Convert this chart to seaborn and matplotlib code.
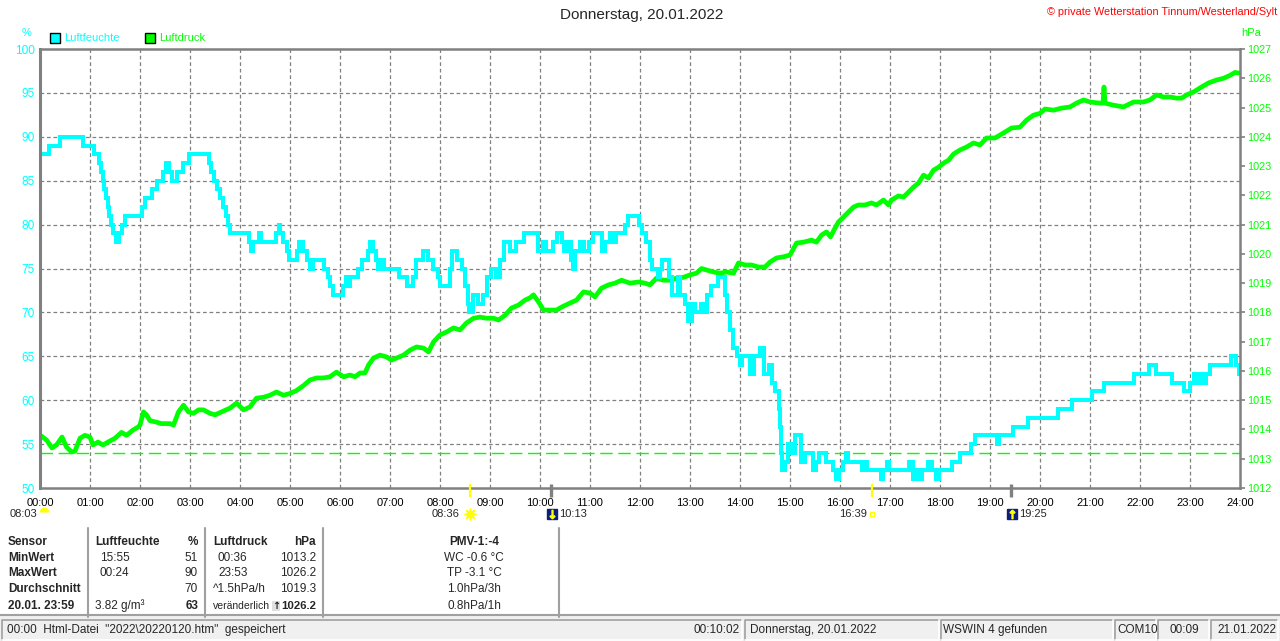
"""Tagesgrafik Luftfeuchte / Luftdruck, WSWIN-Stil."""
import matplotlib
matplotlib.use("Agg")
import matplotlib.lines as mlines
import matplotlib.patches as mpatches
import matplotlib.pyplot as plt
import matplotlib.transforms as mtransforms
import seaborn as sns

W, H = 1280, 641

# Luftfeuchte: Zeitpunkt (h) eines Wechsels und neuer Wert (%), gilt bis zum naechsten
hum_hours = [
    0.00, 0.17, 0.40, 0.85, 1.07, 1.17, 1.22, 1.25, 1.28, 1.31, 1.35, 1.38, 1.42,
    1.46, 1.52, 1.58, 1.63, 1.70, 2.03, 2.10, 2.23, 2.33, 2.45, 2.52, 2.58, 2.63,
    2.73, 2.85, 2.97, 3.37, 3.42, 3.47, 3.53, 3.60, 3.66, 3.72, 3.76, 3.80, 4.17,
    4.22, 4.27, 4.37, 4.42, 4.72, 4.77, 4.80, 4.86, 4.93, 4.98, 5.13, 5.18, 5.26,
    5.33, 5.40, 5.45, 5.68, 5.75, 5.80, 5.85, 6.05, 6.12, 6.15, 6.20, 6.35, 6.43,
    6.55, 6.60, 6.66, 6.72, 6.76, 6.82, 6.88, 7.18, 7.33, 7.45, 7.52, 7.66, 7.75,
    7.85, 7.95, 8.00, 8.20, 8.23, 8.33, 8.43, 8.50, 8.55, 8.58, 8.65, 8.75, 8.85,
    8.93, 9.02, 9.12, 9.20, 9.28, 9.40, 9.52, 9.68, 9.96, 10.05, 10.12, 10.25,
    10.33, 10.44, 10.48, 10.53, 10.62, 10.66, 10.70, 10.80, 10.88, 10.98, 11.06,
    11.24, 11.30, 11.40, 11.48, 11.52, 11.70, 11.76, 11.97, 12.04, 12.12, 12.20,
    12.24, 12.36, 12.40, 12.44, 12.58, 12.64, 12.76, 12.80, 12.90, 12.96, 13.04,
    13.10, 13.22, 13.30, 13.34, 13.42, 13.55, 13.70, 13.74, 13.80, 13.86, 13.94,
    14.00, 14.04, 14.20, 14.28, 14.40, 14.48, 14.57, 14.63, 14.70, 14.78, 14.80,
    14.82, 14.84, 14.90, 14.95, 15.02, 15.10, 15.22, 15.30, 15.46, 15.52, 15.58,
    15.72, 15.86, 15.92, 15.98, 16.06, 16.12, 16.16, 16.44, 16.48, 16.54, 16.82,
    16.86, 16.93, 16.98, 17.38, 17.45, 17.52, 17.60, 17.64, 17.76, 17.84, 17.92,
    17.98, 18.24, 18.40, 18.62, 18.70, 19.14, 19.18, 19.45, 19.76, 20.36, 20.64,
    21.04, 21.28, 21.88, 22.18, 22.32, 22.64, 22.88, 23.00, 23.08, 23.14, 23.22,
    23.26, 23.32, 23.40, 23.82, 23.92, 23.97, 24.00,
]
hum_values = [
    88, 89, 90, 89, 88, 87, 86, 85, 84, 83, 82, 81, 80,
    79, 78, 79, 80, 81, 82, 83, 84, 85, 86, 87, 86, 85,
    86, 87, 88, 87, 86, 85, 84, 83, 82, 81, 80, 79, 78,
    77, 78, 79, 78, 79, 80, 79, 78, 77, 76, 77, 78, 77,
    76, 75, 76, 75, 74, 73, 72, 73, 74, 73, 74, 75, 76,
    77, 78, 77, 76, 75, 76, 75, 74, 73, 74, 76, 77, 76,
    75, 74, 73, 75, 77, 76, 75, 73, 71, 70, 72, 71, 72,
    74, 75, 74, 76, 78, 77, 78, 79, 77, 78, 77, 78,
    79, 78, 77, 78, 76, 75, 77, 78, 77, 78, 79,
    77, 78, 79, 78, 79, 80, 81, 80, 79, 78, 76,
    75, 74, 75, 76, 74, 72, 74, 72, 71, 69, 71,
    70, 71, 70, 72, 73, 74, 72, 70, 68, 66, 65,
    64, 65, 63, 65, 66, 63, 64, 62, 61, 59, 57,
    54, 52, 53, 55, 54, 56, 53, 54, 52, 53, 54,
    53, 52, 51, 52, 53, 54, 53, 52, 53, 52, 51,
    52, 53, 52, 53, 51, 52, 51, 52, 53, 52, 51,
    52, 53, 54, 55, 56, 55, 56, 57, 58, 59, 60,
    61, 62, 63, 64, 63, 62, 61, 62, 63, 62, 63,
    62, 63, 64, 65, 64, 63, 63,
]

# Luftdruck (hPa)
press_hours = [
    0.00, 0.13, 0.24, 0.33, 0.44, 0.53, 0.63, 0.70, 0.80, 0.90, 1.00, 1.06, 1.16,
    1.26, 1.36, 1.50, 1.63, 1.73, 1.86, 1.96, 2.00, 2.07, 2.13, 2.20, 2.33, 2.43,
    2.60, 2.67, 2.77, 2.87, 2.97, 3.07, 3.17, 3.27, 3.40, 3.50, 3.63, 3.80, 3.93,
    4.07, 4.20, 4.33, 4.47, 4.60, 4.73, 4.87, 5.00, 5.13, 5.27, 5.40, 5.53, 5.67,
    5.80, 5.93, 6.07, 6.20, 6.30, 6.40, 6.50, 6.57, 6.67, 6.80, 6.93, 7.03, 7.13,
    7.27, 7.40, 7.53, 7.67, 7.77, 7.87, 8.00, 8.13, 8.27, 8.40, 8.53, 8.67, 8.80,
    8.93, 9.07, 9.17, 9.30, 9.43, 9.57, 9.70, 9.80, 9.87, 9.97, 10.07, 10.20,
    10.33, 10.43, 10.60, 10.73, 10.87, 11.00, 11.10, 11.23, 11.37, 11.50, 11.63,
    11.80, 11.97, 12.10, 12.20, 12.33, 12.47, 12.60, 12.73, 12.87, 13.00, 13.13,
    13.23, 13.33, 13.47, 13.60, 13.73, 13.87, 13.97, 14.10, 14.23, 14.37, 14.50,
    14.60, 14.73, 14.87, 15.00, 15.13, 15.27, 15.43, 15.53, 15.63, 15.73, 15.81,
    15.90, 15.97, 16.07, 16.17, 16.27, 16.37, 16.50, 16.63, 16.73, 16.87, 16.97,
    17.03, 17.17, 17.27, 17.37, 17.47, 17.57, 17.67, 17.77, 17.87, 17.97, 18.07,
    18.17, 18.27, 18.40, 18.53, 18.67, 18.80, 18.93, 19.10, 19.27, 19.43, 19.60,
    19.73, 19.87, 20.00, 20.10, 20.27, 20.43, 20.60, 20.73, 20.87, 21.00, 21.20,
    21.26, 21.28, 21.30, 21.47, 21.67, 21.87, 22.07, 22.20, 22.33, 22.47, 22.60,
    22.73, 22.83, 22.93, 23.07, 23.20, 23.37, 23.53, 23.67, 23.80, 23.90, 23.97,
]
press_values = [
    1013.81, 1013.64, 1013.37, 1013.47, 1013.74, 1013.40, 1013.23, 1013.26, 1013.70,
    1013.80, 1013.74, 1013.47, 1013.57, 1013.47, 1013.57, 1013.70, 1013.90, 1013.80,
    1013.98, 1014.08, 1014.15, 1014.60, 1014.50, 1014.30, 1014.25, 1014.20, 1014.20,
    1014.15, 1014.60, 1014.83, 1014.60, 1014.55, 1014.67, 1014.67, 1014.55, 1014.50,
    1014.60, 1014.73, 1014.90, 1014.67, 1014.77, 1015.07, 1015.10, 1015.17, 1015.28,
    1015.17, 1015.23, 1015.33, 1015.50, 1015.69, 1015.76, 1015.76, 1015.80, 1015.96,
    1015.80, 1015.86, 1015.80, 1015.93, 1015.93, 1016.20, 1016.44, 1016.54, 1016.48,
    1016.37, 1016.44, 1016.54, 1016.71, 1016.82, 1016.78, 1016.65, 1016.99, 1017.23,
    1017.33, 1017.47, 1017.40, 1017.64, 1017.80, 1017.84, 1017.80, 1017.80, 1017.74,
    1017.90, 1018.15, 1018.25, 1018.42, 1018.50, 1018.60, 1018.36, 1018.08, 1018.08,
    1018.08, 1018.18, 1018.32, 1018.42, 1018.70, 1018.66, 1018.53, 1018.83, 1018.94,
    1019.00, 1019.10, 1019.00, 1019.04, 1019.00, 1018.94, 1019.17, 1019.10, 1019.10,
    1019.17, 1019.20, 1019.28, 1019.34, 1019.50, 1019.45, 1019.38, 1019.34, 1019.38,
    1019.34, 1019.69, 1019.62, 1019.62, 1019.55, 1019.55, 1019.72, 1019.86, 1019.90,
    1019.96, 1020.37, 1020.40, 1020.47, 1020.40, 1020.64, 1020.75, 1020.58, 1020.88,
    1021.09, 1021.26, 1021.43, 1021.60, 1021.67, 1021.67, 1021.74, 1021.67, 1021.84,
    1021.67, 1021.84, 1021.98, 1021.94, 1022.11, 1022.28, 1022.42, 1022.69, 1022.59,
    1022.86, 1022.96, 1023.10, 1023.20, 1023.41, 1023.55, 1023.65, 1023.79, 1023.72,
    1023.96, 1023.96, 1024.13, 1024.30, 1024.33, 1024.57, 1024.74, 1024.80, 1024.95,
    1024.91, 1024.98, 1025.02, 1025.15, 1025.26, 1025.19, 1025.15, 1025.15, 1025.70,
    1025.15, 1025.08, 1025.02, 1025.19, 1025.19, 1025.26, 1025.43, 1025.36, 1025.36,
    1025.32, 1025.32, 1025.43, 1025.53, 1025.67, 1025.84, 1025.94, 1026.00, 1026.10,
    1026.20, 1026.18,
]
PRESS_MIN = 1013.2

hour_labels = [f"{h:02d}:00" for h in range(25)]
hum_ticks = list(range(50, 101, 5))
press_ticks = list(range(1012, 1028))

# Sonne / Mond: Uhrzeit, Art
event_times = ["08:36", "10:13", "16:39", "19:25"]
event_kinds = ["sunrise", "moonset", "sunset", "moonrise"]
dawn_time = "08:03"

table_rows = [
    ["Sensor", "Luftfeuchte", "%", "Luftdruck", "hPa", "PMV-1:-4"],
    ["MinWert", "15:55", "51", "00:36", "1013.2", "WC -0.6 °C"],
    ["MaxWert", "00:24", "90", "23:53", "1026.2", "TP -3.1 °C"],
    ["Durchschnitt", "", "70", "^1.5hPa/h", "1019.3", "1.0hPa/3h"],
    ["20.01. 23:59", "3.82 g/m³", "63", "veränderlich", "1026.2", "0.8hPa/1h"],
]
status_texts = [
    '00:00  Html-Datei  "2022\\20220120.htm"  gespeichert',
    "00:10:02", "Donnerstag, 20.01.2022", "WSWIN 4 gefunden", "COM10", "00:09",
    "21.01.2022",
]

CYAN = "#00ffff"
GREEN = "#00ff00"
GRID = "#808080"


def fx(x):
    return x / W


def fy(y):
    return 1 - y / H


def to_hours(hhmm):
    h, m = hhmm.split(":")
    return int(h) + int(m) / 60


sns.set_style("white")
plt.rcParams["font.family"] = ["Liberation Sans", "DejaVu Sans"]

fig = plt.figure(figsize=(W / 100, H / 100), dpi=100)
ax = fig.add_axes([fx(40), fy(488), 1200 / W, 439 / H])
ax2 = ax.twinx()

# ax (Luftfeuchte) soll ueber dem Luftdruck liegen
ax.set_zorder(ax2.get_zorder() + 1)
ax.patch.set_visible(False)
ax2.patch.set_visible(True)
ax2.patch.set_facecolor("white")

# Gitter im unteren Achsensystem
ax2.vlines(range(1, 24), 0, 1, transform=ax2.get_xaxis_transform(),
           colors=GRID, lw=0.9, linestyles=(0, (3, 2.2)), zorder=0.5)
hum_grid_trans = mtransforms.blended_transform_factory(ax2.transAxes, ax.transData)
ax2.hlines(hum_ticks[1:-1], 0, 1, transform=hum_grid_trans,
           colors=GRID, lw=0.9, linestyles=(0, (3, 2.2)), zorder=0.5)

ax2.axhline(PRESS_MIN, color=GREEN, lw=1, dashes=(9, 4), zorder=1)
sns.lineplot(x=press_hours, y=press_values, ax=ax2, color=GREEN, lw=3.4,
             estimator=None, sort=False, legend=False)

sns.lineplot(x=hum_hours, y=hum_values, ax=ax, color=CYAN, lw=2.9,
             drawstyle="steps-post", estimator=None, sort=False, legend=False,
             solid_joinstyle="miter", solid_capstyle="butt")

ax.set_xlim(0, 24)
ax.set_ylim(50, 100)
ax2.set_ylim(1012, 1027)
ax.set_xticks(range(25))
ax.set_xticklabels(hour_labels)
ax.set_yticks(hum_ticks)
ax2.set_yticks(press_ticks)
ax.set_xlabel("")
ax.set_ylabel("")
ax2.set_ylabel("")

ax.tick_params(axis="x", length=0, pad=7, labelsize=8, labelcolor="black")
ax.tick_params(axis="y", length=0, pad=4, labelsize=8.6, labelcolor=CYAN)
ax2.tick_params(axis="y", length=3.5, width=1.2, color=GRID, pad=1.5,
                labelsize=7.8, labelcolor=GREEN)

for sp in ax2.spines.values():
    sp.set_visible(False)
for name, sp in ax.spines.items():
    sp.set_color(GRID)
    sp.set_linewidth(2.2 if name == "left" else 1.8)

# Sonnen- und Mondereignisse unter der Zeitachse
ev_trans = mtransforms.blended_transform_factory(ax.transData, fig.transFigure)
y_lab = fy(514)
for t_str, kind in zip(event_times, event_kinds):
    t = to_hours(t_str)
    sun = kind.startswith("sun")
    ax.plot([t, t], [fy(484), fy(497)], transform=ev_trans, clip_on=False,
            color="#ffff00" if sun else GRID, lw=1.6 if sun else 2.4,
            solid_capstyle="butt", zorder=5)
    if kind == "sunrise":
        ax.plot([t], [y_lab], transform=ev_trans, clip_on=False, marker=(8, 2, 0),
                ms=8.5, mec="#ffff00", mew=1, zorder=6)
        ax.plot([t], [y_lab], transform=ev_trans, clip_on=False, marker="o",
                ms=5, mfc="#ffff00", mec="#ffff00", zorder=6)
        ax.annotate(t_str, (t, y_lab), xycoords=ev_trans, xytext=(-11, 0),
                    textcoords="offset pixels", ha="right", va="center", size=8)
    elif kind == "sunset":
        ax.plot([t], [y_lab], transform=ev_trans, clip_on=False, marker="s",
                ms=3.5, mfc="none", mec="#ffff00", mew=1, zorder=6)
        ax.annotate(t_str, (t, y_lab), xycoords=ev_trans, xytext=(-6, 0),
                    textcoords="offset pixels", ha="right", va="center", size=8)
    else:
        up = kind == "moonrise"
        icon_off = mtransforms.offset_copy(ev_trans, fig=fig, x=1.5, y=0,
                                           units="dots")
        ax.plot([t], [y_lab], transform=icon_off, clip_on=False, marker="s",
                ms=7.5, mfc="#0c1f7a", mec="#0c1f7a", zorder=6)
        ax.plot([t], [y_lab], transform=icon_off, clip_on=False,
                marker="$\\uparrow$" if up else "$\\downarrow$", ms=6,
                mfc="#ffff00", mec="#ffff00", zorder=7)
        ax.annotate(t_str, (t, y_lab), xycoords=ev_trans, xytext=(8, 0),
                    textcoords="offset pixels", ha="left", va="center", size=8)

# Daemmerung am linken Rand
dawn_off = mtransforms.offset_copy(ev_trans, fig=fig, x=4, y=2, units="dots")
ax.plot([0], [y_lab], transform=dawn_off, clip_on=False, marker="o", ms=7,
        fillstyle="top", mfc="#ffff00", mfcalt="none", mec="none", zorder=6)
ax.annotate(dawn_time, (0, y_lab), xycoords=ev_trans, xytext=(-3, 0),
            textcoords="offset pixels", ha="right", va="center", size=8)

# Kopfzeile
fig.text(fx(642), fy(15), "Donnerstag, 20.01.2022", ha="center", va="center",
         size=11)
fig.text(fx(1277), fy(12), "© private Wetterstation Tinnum/Westerland/Sylt",
         ha="right", va="center", size=7.8, color="#ff0000")
fig.text(fx(27), fy(33), "%", ha="center", va="center", size=8, color=CYAN)
fig.text(fx(1251), fy(33), "hPa", ha="center", va="center", size=8, color=GREEN)
for x0, label, col in [(50, "Luftfeuchte", CYAN), (145, "Luftdruck", GREEN)]:
    fig.add_artist(mpatches.Rectangle((fx(x0), fy(43)), 10 / W, 10 / H,
                                      transform=fig.transFigure, facecolor=col,
                                      edgecolor="black", lw=1))
    fig.text(fx(x0 + 14), fy(38), label, ha="left", va="center", size=8, color=col)

# Tabelle
row_y = [542, 558, 573, 589, 606]
for x in [88, 205, 323, 559]:
    fig.add_artist(mlines.Line2D([fx(x), fx(x)], [fy(528), fy(617)],
                                 color="#a0a0a0", lw=1.5))
for i, (row, y) in enumerate(zip(table_rows, row_y)):
    head = i == 0
    last = i == len(table_rows) - 1
    fig.text(fx(8), fy(y), row[0], ha="left", va="center", size=8.5,
             weight="bold")
    fig.text(fx(95 if head or last else 100), fy(y), row[1], ha="left",
             va="center", size=8.5, weight="bold" if head else "normal")
    fig.text(fx(198), fy(y), row[2], ha="right", va="center", size=8.5,
             weight="bold" if head or last else "normal")
    fig.text(fx(213 if head or i >= 3 else 218), fy(y), row[3], ha="left",
             va="center", size=7.5 if last else 8.5,
             weight="bold" if head else "normal")
    fig.text(fx(316), fy(y), row[4], ha="right", va="center",
             size=8.2 if last else 8.5,
             weight="bold" if head or last else "normal")
    fig.text(fx(474), fy(y), row[5], ha="center", va="center", size=8.5,
             weight="bold" if head else "normal")
fig.text(fx(276), fy(606), "↑", ha="center", va="center", size=7, weight="bold",
         family=["DejaVu Sans"],
         bbox=dict(boxstyle="square,pad=0", fc="#e0e0e0", ec="none"))

# Statuszeile
fig.add_artist(mpatches.Rectangle((0, 0), 1, fy(615), transform=fig.transFigure,
                                  facecolor="#f0f0f0", edgecolor="none"))
fig.add_artist(mlines.Line2D([0, 1], [fy(615), fy(615)], color="#a0a0a0", lw=1.5))
panels = [(2, 742), (745, 939), (941, 1113), (1115, 1156), (1158, 1209),
          (1211, 1278)]
for x0, x1 in panels:
    fig.add_artist(mlines.Line2D([fx(x0), fx(x0), fx(x1)],
                                 [fy(640), fy(620), fy(620)], color="#a0a0a0", lw=1.2))
    fig.add_artist(mlines.Line2D([fx(x0), fx(x1), fx(x1)],
                                 [fy(640), fy(640), fy(620)], color="white", lw=1.2))
ys = fy(630)
fig.text(fx(7), ys, status_texts[0], ha="left", va="center", size=8.5)
fig.text(fx(740), ys, status_texts[1], ha="right", va="center", size=8.5)
fig.text(fx(750), ys, status_texts[2], ha="left", va="center", size=8.5)
fig.text(fx(943), ys, status_texts[3], ha="left", va="center", size=8.5)
fig.text(fx(1117), ys, status_texts[4], ha="left", va="center", size=8.5)
fig.text(fx(1184), ys, status_texts[5], ha="center", va="center", size=8.5)
fig.text(fx(1217), ys, status_texts[6], ha="left", va="center", size=8.5)

fig.savefig("out.png", dpi=100, facecolor="white")
